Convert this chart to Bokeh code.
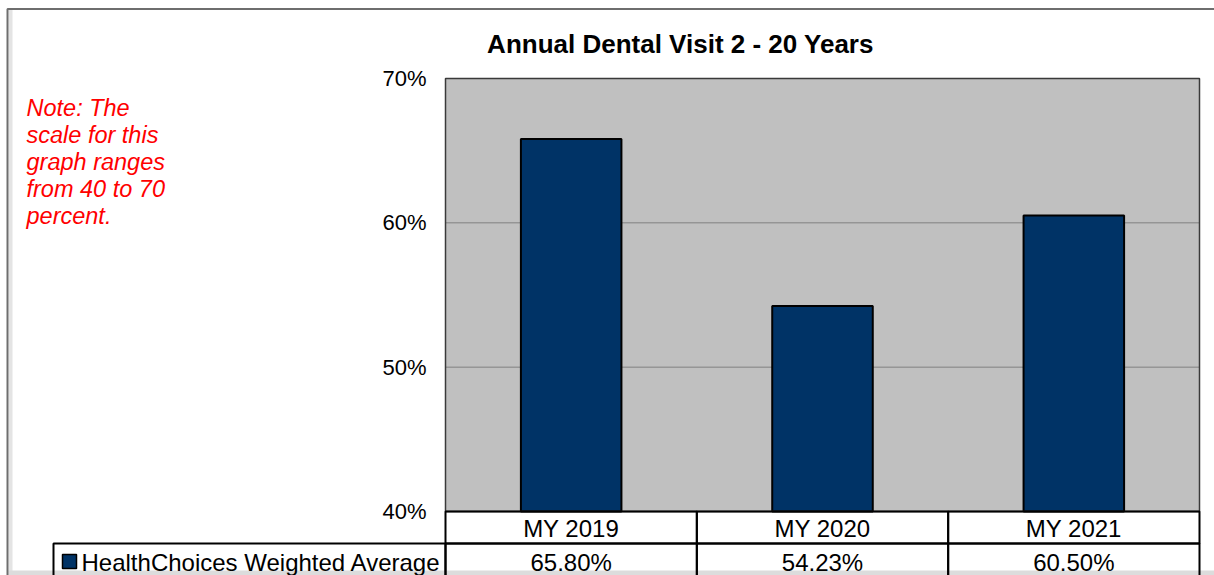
from bokeh.plotting import figure
from bokeh.models import (Range1d, Label, BoxAnnotation, FixedTicker,
                          PrintfTickFormatter)
from bokeh.embed import file_html
from bokeh.resources import INLINE

# ---- data ----
categories = ["MY 2019", "MY 2020", "MY 2021"]
values = [65.80, 54.23, 60.50]
series_name = "HealthChoices Weighted Average"
title_text = "Annual Dental Visit 2 - 20 Years"
note_lines = ["Note: The", "scale for this", "graph ranges", "from 40 to 70", "percent."]
y_ticks = [40, 50, 60, 70]

# ---- layout (canvas pixels) ----
W, H = 1214, 575
FL, FR, FT, FB = 445, 1199, 78, 511      # plot area in pixels
YMIN, YMAX = 40, 70
N = len(categories)
centers = [i + 0.5 for i in range(N)]


def xd(px):
    return (px - FL) / (FR - FL) * N


def yd(py):
    return YMIN + (FB - py) / (FB - FT) * (YMAX - YMIN)


FONT = "Liberation Sans"

p = figure(width=W, height=H, x_range=Range1d(xd(0), xd(W)),
           y_range=Range1d(yd(H), yd(0)), output_backend="svg", toolbar_location=None,
           min_border=0)

# pixel ranges for decorations
p.extra_x_ranges = {"px": Range1d(0, W)}
p.extra_y_ranges = {"px": Range1d(H, 0)}
PX = dict(x_range_name="px", y_range_name="px")

p.background_fill_color = "white"
p.border_fill_color = "white"
p.outline_line_color = None
p.xgrid.visible = False
p.ygrid.visible = False


def box(**kw):
    kw.setdefault("fill_alpha", 0)
    kw.setdefault("line_alpha", 1)
    return BoxAnnotation(**kw)


# plot area background
p.add_layout(box(left=0, right=N, bottom=YMIN, top=YMAX,
                 fill_color="#C0C0C0", fill_alpha=1, line_color=None, level="underlay"))

# grid lines
grid_vals = [t for t in y_ticks if YMIN < t < YMAX]
p.segment(x0=[0] * len(grid_vals), x1=[N] * len(grid_vals), y0=grid_vals, y1=grid_vals,
          line_color="#808080", line_width=1)

# y axis, fixed at left edge of the plot area
p.yaxis.fixed_location = 0
p.yaxis.bounds = (YMIN, YMAX)
p.yaxis.ticker = FixedTicker(ticks=y_ticks)
p.yaxis.formatter = PrintfTickFormatter(format="%d%%")
p.yaxis.axis_line_color = None
p.yaxis.major_tick_line_color = None
p.yaxis.minor_tick_line_color = None
p.yaxis.major_tick_out = 0
p.yaxis.major_tick_in = 0
p.yaxis.minor_tick_out = 0
p.yaxis.major_label_standoff = 19
p.yaxis.major_label_text_font = FONT
p.yaxis.major_label_text_font_size = "22px"
p.yaxis.major_label_text_color = "black"

# x axis (first row of the data table), fixed at the plot area bottom
p.xaxis.fixed_location = YMIN
p.xaxis.bounds = (0, N)
p.xaxis.ticker = FixedTicker(ticks=centers)
p.xaxis.major_label_overrides = {c: cat for c, cat in zip(centers, categories)}
p.xaxis.axis_line_color = None
p.xaxis.major_tick_line_color = None
p.xaxis.minor_tick_line_color = None
p.xaxis.major_tick_out = 0
p.xaxis.major_tick_in = 0
p.xaxis.minor_tick_out = 0
p.xaxis.major_label_standoff = 3
p.xaxis.major_label_text_font = FONT
p.xaxis.major_label_text_font_size = "24px"
p.xaxis.major_label_text_color = "black"

# bars
p.vbar(x=centers, top=values, bottom=YMIN, width=0.4,
       fill_color="#003366", line_color="black", line_width=2)

# plot area border
p.add_layout(box(left=0, right=N, bottom=YMIN, top=YMAX,
                 line_color="#3a3a3a", line_width=1.5))

# outer chart border and shadow
p.add_layout(box(left=8, right=12, top=9, bottom=700,
                 fill_color="#e4e4e4", fill_alpha=1, line_color=None, **PX))
p.add_layout(box(left=8, right=1300, top=570, bottom=700,
                 fill_color="#dcdcdc", fill_alpha=1, line_color=None, **PX))
p.add_layout(box(left=7, right=1300, top=8.5, bottom=700,
                 line_color="#6e6e6e", line_width=2, **PX))

# table cells
for i, c in enumerate(centers):
    p.add_layout(box(left=i, right=i + 1, top=YMIN, bottom=yd(543),
                     line_color="black", line_width=2))
    p.add_layout(box(left=i, right=i + 1, top=yd(543), bottom=yd(620),
                     line_color="black", line_width=2))
    p.add_layout(Label(x=c, y=562, text=f"{values[i]:.2f}%",
                       text_align="center", text_baseline="middle",
                       text_font=FONT, text_font_size="24px", text_color="black",
                       y_range_name="px"))

# legend cell
p.add_layout(box(left=53, right=FL, top=543, bottom=620,
                 line_color="black", line_width=2, **PX))
p.add_layout(box(left=62, right=76, top=554, bottom=568,
                 fill_color="#003366", fill_alpha=1, line_color="black",
                 line_width=1.5, **PX))
p.add_layout(Label(x=81, y=562, text=series_name,
                   text_align="left", text_baseline="middle",
                   text_font=FONT, text_font_size="24px", text_color="black", **PX))

# title
p.add_layout(Label(x=680, y=43, text=title_text,
                   text_align="center", text_baseline="middle",
                   text_font=FONT, text_font_size="26px", text_font_style="bold",
                   text_color="black", **PX))

# note
for k, line in enumerate(note_lines):
    p.add_layout(Label(x=26, y=107 + 27.2 * k, text=line,
                       text_align="left", text_baseline="middle",
                       text_font=FONT, text_font_size="23.5px", text_font_style="italic",
                       text_color="#FF0000", **PX))

open("out.html", "w").write(file_html(p, INLINE))
